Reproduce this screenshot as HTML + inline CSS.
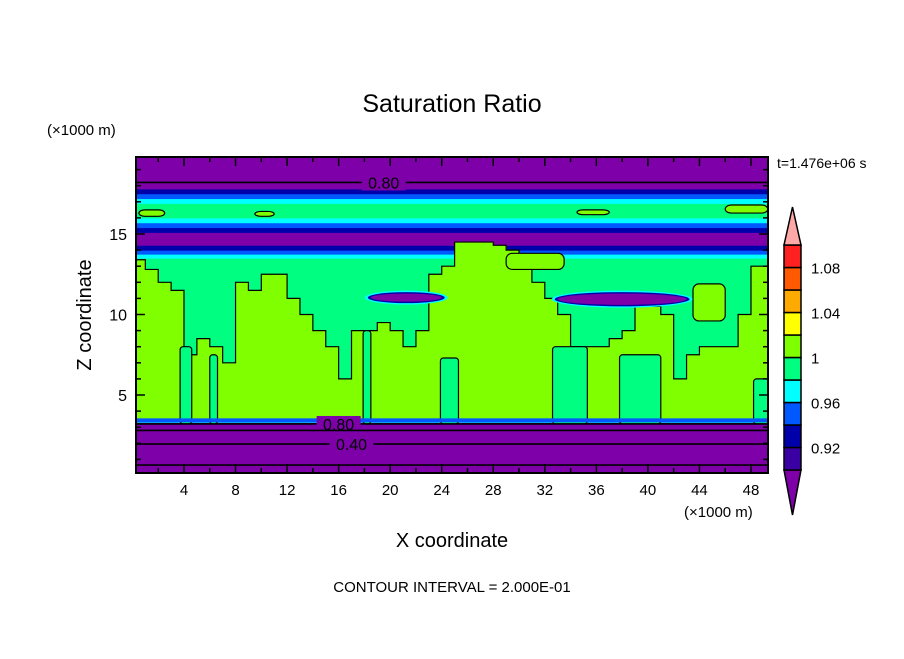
<!DOCTYPE html>
<html><head><meta charset="utf-8"><style>
body{margin:0;background:#fff;width:904px;height:654px;overflow:hidden}
svg text{font-family:"Liberation Sans",sans-serif;fill:#000}
</style></head><body>
<svg id="chart" width="904" height="654" viewBox="0 0 904 654" xmlns="http://www.w3.org/2000/svg">
<defs><clipPath id="pc"><rect x="136" y="157" width="632" height="316"/></clipPath></defs>
<text x="452" y="112" font-size="25" text-anchor="middle">Saturation Ratio</text>
<text x="47" y="135" font-size="15">(×1000 m)</text>
<text x="777" y="168" font-size="14">t=1.476e+06 s</text>
<text transform="translate(91,315) rotate(-90)" font-size="20" text-anchor="middle">Z coordinate</text>
<text x="684" y="517" font-size="15">(×1000 m)</text>
<text x="452" y="547" font-size="20" text-anchor="middle">X coordinate</text>
<text x="452" y="592" font-size="15" text-anchor="middle">CONTOUR INTERVAL = 2.000E-01</text>
<g id="field" clip-path="url(#pc)"></g>
<g id="axes"></g>
<g id="cbar"></g>
</svg>
<script>
// ---- data ----
const levels=[0.90,0.92,0.94,0.96,0.98,1.0,1.02,1.04,1.06,1.08,1.10];
const levelColors=["#7d00a8","#3a00a4","#0000aa","#0058ff","#00ffff","#00ff80","#80ff00","#ffff00","#ffaa00","#ff5a00","#ff2020","#ffa8a8"];
const cbarLabels=["0.92","0.96","1","1.04","1.08"];
const cbarLabelValues=[0.92,0.96,1.0,1.04,1.08];
const xTicks=[4,8,12,16,20,24,28,32,36,40,44,48];
const yTicks=[5,10,15];
// horizontal bands
const bandBottoms=[0,3.3,3.45,13.5,13.75,14.0,14.3,15.1,15.4,15.7,16.0,16.9,17.2,17.5,17.8];
const bandTops=[3.3,3.45,13.5,13.75,14.0,14.3,15.1,15.4,15.7,16.0,16.9,17.2,17.5,17.8,19.9];
const bandValues=[0.5,0.97,0.99,0.97,0.95,0.93,0.85,0.93,0.95,0.97,0.99,0.97,0.95,0.93,0.85];
// green (>=1) region top per km column 0..49
const greenTop=[13.4,12.8,12,11.5,7.5,8.5,8,7,12,11.5,12.5,12.5,11,10,9,8,6,9,9,9.5,9,8,9,12.5,13,14.5,14.5,14.5,14.3,14,13,12,11,10,8,8,8,8.5,9,10.5,10.5,10,6,7.5,8,8,8,10,13,13];
// sub-saturated gaps reaching the base
const gapX0=[3.7,6,17.9,23.9,32.6,37.8,48.2];
const gapX1=[4.6,6.6,18.5,25.3,35.3,41,49.5];
const gapTop=[8,7.5,9,7.3,8,7.5,6];
// isolated green blobs
const blobX0=[43.5,29,0.5,9.5,34.5,46];
const blobX1=[46,33.5,2.5,11,37,49.3];
const blobZ0=[9.6,12.8,16.1,16.1,16.2,16.3];
const blobZ1=[11.9,13.8,16.5,16.4,16.5,16.8];
// dry layers around 11 km
const layerX0=[18.5,33];
const layerX1=[24,43];
const layerZ0=[10.8,10.6];
const layerZ1=[11.3,11.3];
const layerValues=[0.88,0.86];
// contour lines
const lineZ=[18.2,3.2,2.8,1.95,0.65];
const lineLabels=["0.80","0.80","","0.40",""];
const lineLabelX=[19.5,16,0,17,0];

// ---- axes ----
const xPx=x=>184+(x-4)*12.886;
const zPx=z=>395-(z-5)*16.1;
const NS="http://www.w3.org/2000/svg";
function mk(tag,attrs,parent){const e=document.createElementNS(NS,tag);for(const k in attrs)e.setAttribute(k,attrs[k]);parent.appendChild(e);return e;}
function colorOf(v){let i=0;while(i<levels.length&&v>=levels[i])i++;return levelColors[i];}
const fieldG=document.getElementById('field');
bandBottoms.forEach((b,i)=>{
  const r=mk('rect',{x:130,y:zPx(bandTops[i]),width:650,height:zPx(b)-zPx(bandTops[i])+0.5,fill:colorOf(bandValues[i])},fieldG);
  
  
});
let d='';
greenTop.forEach((t,i)=>{
  const r=mk('rect',{x:xPx(i),y:zPx(t),width:12.9+0.5,height:zPx(3.45)-zPx(t),fill:colorOf(1.01)},fieldG);
  
  
  d+=(i?'L':'M')+xPx(i)+' '+zPx(t)+' L'+(xPx(i+1))+' '+zPx(t)+' ';
});
const gl=mk('path',{d:d,fill:'none',stroke:'#000','stroke-width':1.2},fieldG);


gapX0.forEach((x0,i)=>{
  const r=mk('rect',{x:xPx(x0),y:zPx(gapTop[i]),width:xPx(gapX1[i])-xPx(x0),height:zPx(3.45)-zPx(gapTop[i])+4,rx:3,fill:colorOf(0.99),stroke:'#000','stroke-width':1.2},fieldG);
  
  
});
blobX0.forEach((x0,i)=>{
  const r=mk('rect',{x:xPx(x0),y:zPx(blobZ1[i]),width:xPx(blobX1[i])-xPx(x0),height:zPx(blobZ0[i])-zPx(blobZ1[i]),rx:6,fill:colorOf(1.01),stroke:'#000','stroke-width':1.2},fieldG);
  
  
});
layerX0.forEach((x0,i)=>{
  const cx=(xPx(x0)+xPx(layerX1[i]))/2, cy=(zPx(layerZ0[i])+zPx(layerZ1[i]))/2;
  const rx=(xPx(layerX1[i])-xPx(x0))/2, ry=(zPx(layerZ0[i])-zPx(layerZ1[i]))/2;
  mk('ellipse',{cx:cx,cy:cy,rx:rx+6,ry:ry+3,fill:colorOf(0.97)},fieldG);
  mk('ellipse',{cx:cx,cy:cy,rx:rx+3,ry:ry+1.5,fill:colorOf(0.93)},fieldG);
  const e=mk('ellipse',{cx:cx,cy:cy,rx:rx,ry:ry,fill:colorOf(layerValues[i])},fieldG);
  
  
});
// base of moist layer thin blue/cyan edge
const edge=mk('rect',{x:130,y:zPx(3.55),width:650,height:zPx(3.3)-zPx(3.55),fill:colorOf(0.95)},fieldG);


lineZ.forEach((z,i)=>{
  const l=mk('line',{x1:136,x2:768,y1:zPx(z),y2:zPx(z),stroke:'#000','stroke-width':1.6},fieldG);
  
  
  if(lineLabels[i]){
    const xc=xPx(lineLabelX[i]);
    mk('rect',{x:xc-22,y:zPx(z)-8,width:44,height:16,fill:colorOf(0.5)},fieldG);
    const t=mk('text',{x:xc,y:zPx(z)+6,'font-size':16,'text-anchor':'middle'},fieldG);
    t.textContent=lineLabels[i];
    
    
  }
});
const axG=document.getElementById('axes');
const fr=mk('rect',{x:136,y:157,width:632,height:316,fill:'none',stroke:'#000','stroke-width':2},axG);


for(let x=2;x<=48;x+=2){const L=x%4?5:9;
  mk('line',{x1:xPx(x),x2:xPx(x),y1:473,y2:473-L,stroke:'#000','stroke-width':1.5},axG);
  mk('line',{x1:xPx(x),x2:xPx(x),y1:157,y2:157+L,stroke:'#000','stroke-width':1.5},axG);}
for(let z=1;z<=19;z++){const L=z%5?5:9;
  mk('line',{x1:136,x2:136+L,y1:zPx(z),y2:zPx(z),stroke:'#000','stroke-width':1.5},axG);
  mk('line',{x1:768,x2:768-L,y1:zPx(z),y2:zPx(z),stroke:'#000','stroke-width':1.5},axG);}
xTicks.forEach(x=>{const t=mk('text',{x:xPx(x),y:495,'font-size':15,'text-anchor':'middle'},axG);t.textContent=x;
  
  });
yTicks.forEach(z=>{const t=mk('text',{x:127,y:zPx(z)+6,'font-size':16,'text-anchor':'end'},axG);t.textContent=z;
  
  });
const cbG=document.getElementById('cbar');
const cbY=v=>470-(v-0.90)/0.02*22.5;
const cbX=784,cbW=17;
const botArrow=mk('polygon',{points:`${cbX},470 ${cbX+cbW},470 ${cbX+cbW/2},515`,fill:levelColors[0],stroke:'#000','stroke-width':1.5},cbG);


for(let i=1;i<=10;i++){
  const v0=0.90+(i-1)*0.02;
  const r=mk('rect',{x:cbX,y:cbY(v0+0.02),width:cbW,height:22.5,fill:levelColors[i],stroke:'#000','stroke-width':1.5},cbG);
  
  
}
const topArrow=mk('polygon',{points:`${cbX},${cbY(1.10)} ${cbX+cbW},${cbY(1.10)} ${cbX+cbW/2},207`,fill:levelColors[11],stroke:'#000','stroke-width':1.5},cbG);


cbarLabels.forEach((s,i)=>{const t=mk('text',{x:811,y:cbY(cbarLabelValues[i])+6,'font-size':15},cbG);t.textContent=s;
  
  });
</script>
</body></html>
